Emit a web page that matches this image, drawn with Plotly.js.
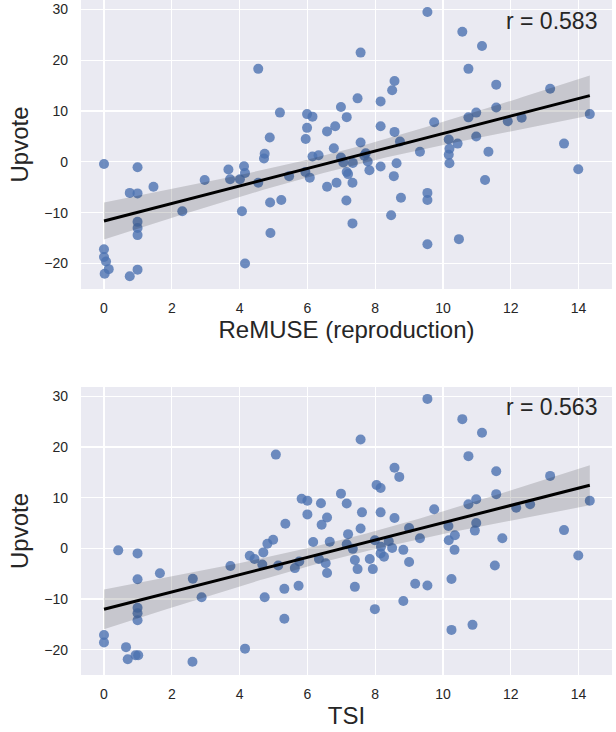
<!DOCTYPE html>
<html>
<head>
<meta charset="utf-8">
<script src="https://cdn.plot.ly/plotly-3.0.1.min.js"></script>
<style>html,body{margin:0;padding:0;background:#fff;}#chart{width:616px;height:732px;}</style>
</head>
<body>
<div id="chart"></div>
<script>
// ---- Panel 1: ReMUSE (reproduction) vs Upvote ----
const remuseX = [4.55,0,0.99,3.67,4.13,4.16,3.72,4.01,4.55,2.97,1.46,0.76,0.99,2.31,4.07,0.99,0.99,0.99,0,0,0.06,0.14,0.02,0.76,0.99,4.16,
  9.54,7.57,8.57,8.5,7.48,8.16,6.99,7.16,5.19,5.99,6.15,5.99,6.82,6.58,8.16,8.57,4.89,5.95,7.57,8.73,6.78,4.74,4.72,6.15,6.33,6.99,7.72,7.68,7.78,7.06,7.34,8.63,9.32,8.16,7.83,8.55,7.16,7.2,5.94,6.07,5.46,7.33,6.86,6.58,8.76,9.54,9.54,4.9,5.23,7.15,8.47,7.33,4.91,9.54,
  10.57,11.15,10.75,11.57,13.16,11.57,10.98,10.75,9.74,11.91,12.32,14.33,10.17,10.98,10.43,10.19,10.17,11.34,13.57,10.19,13.99,11.24,10.47];
const remuseY = [18.3,-0.4,-1.05,-1.5,-0.85,-2.2,-3.4,-3.4,-4.1,-3.56,-4.9,-6.1,-6.2,-9.7,-9.7,-11.8,-13.0,-14.4,-17.2,-18.7,-19.6,-21.1,-22.0,-22.5,-21.2,-20.0,
  29.5,21.5,15.9,14.1,12.5,11.9,10.8,8.8,9.7,9.4,8.9,6.7,7.0,6.0,7.0,5.9,4.8,4.5,3.8,4.0,2.7,1.6,0.66,1.05,1.3,0.85,1.7,1.2,0.07,-0.13,-0.2,-0.27,2.0,-0.92,-1.65,-2.8,-2.0,-2.4,-2.0,-3.1,-2.8,-4.1,-4.1,-4.9,-7.05,-6.1,-7.5,-8.0,-7.5,-7.6,-10.5,-12.1,-14.0,-16.2,
  25.6,22.8,18.3,15.2,14.4,10.7,9.7,8.76,7.8,8.0,8.7,9.4,4.4,5.0,3.6,2.6,1.4,2.0,3.6,-0.27,-1.45,-3.55,-15.2];

// ---- Panel 2: TSI vs Upvote ----
const tsiX = [0.42,0.99,1.65,0.99,2.62,2.88,3.73,4.3,4.44,0.99,0.99,0.99,0,0,0.65,0.70,0.93,1.01,2.61,4.16,
  9.54,5.07,7.57,8.57,8.71,8.04,8.16,6.99,5.83,6.0,6.4,7.16,6.0,6.58,7.61,8.16,8.57,6.42,5.35,7.57,9.0,7.2,4.99,4.82,4.7,6.17,6.66,7.16,7.99,8.4,8.17,7.34,8.5,8.83,9.32,8.16,8.26,7.84,7.4,9.0,6.54,6.34,5.76,5.63,5.14,4.67,7.48,7.93,6.58,9.18,9.54,5.74,5.32,7.4,4.74,8.83,7.99,5.32,
  10.57,11.15,10.75,11.57,13.16,11.57,10.98,10.75,9.74,12.16,12.57,14.33,10.16,10.98,10.94,10.35,10.17,11.75,13.57,10.34,13.99,11.53,10.25,10.87,10.25];
const tsiY = [-0.4,-1.0,-4.9,-6.1,-6.0,-9.65,-3.5,-1.45,-2.1,-11.75,-12.8,-14.2,-17.1,-18.6,-19.5,-21.9,-21.1,-21.1,-22.4,-19.8,
  29.5,18.5,21.5,15.9,14.1,12.5,11.9,10.8,9.8,9.4,8.9,8.85,6.7,6.1,7.1,7.1,6.0,4.65,4.85,3.9,4.0,2.8,1.7,0.9,-0.8,1.24,1.3,0.8,1.6,1.4,0.3,-0.1,0.06,-0.3,2.0,-1.0,-1.65,-2.1,-2.3,-2.7,-2.95,-2.1,-2.6,-3.9,-3.4,-3.2,-4.1,-4.1,-4.85,-7.0,-7.35,-7.4,-8.0,-7.6,-9.65,-10.4,-12.0,-13.9,
  25.5,22.8,18.2,15.2,14.3,10.7,9.7,8.7,7.7,8.0,8.7,9.4,4.4,5.0,3.5,2.6,1.6,2.0,3.6,-0.3,-1.4,-3.4,-6.05,-15.1,-16.1];

const xTitles = ["ReMUSE (reproduction)", "TSI"];
const yTitle = "Upvote";
const rLabels = ["r = 0.583", "r = 0.563"];
const xTicks = [0,2,4,6,8,10,12,14];
const yTicks = [-20,-10,0,10,20,30];

// OLS fit with 95% confidence band
function regression(xs, ys) {
  const n = xs.length;
  const mx = xs.reduce((a,b)=>a+b,0)/n, my = ys.reduce((a,b)=>a+b,0)/n;
  let sxx=0, sxy=0;
  for (let i=0;i<n;i++){ sxx+=(xs[i]-mx)**2; sxy+=(xs[i]-mx)*(ys[i]-my); }
  const b = sxy/sxx, a = my - b*mx;
  let sse=0; for (let i=0;i<n;i++){ sse+=(ys[i]-a-b*xs[i])**2; }
  const s2 = sse/(n-2), t = 1.984;
  const lo = Math.min(...xs), hi = Math.max(...xs);
  const gx=[], gy=[], up=[], dn=[];
  for (let k=0;k<=100;k++){
    const x = lo + (hi-lo)*k/100;
    const yh = a + b*x;
    const se = Math.sqrt(s2*(1/n + (x-mx)**2/sxx));
    gx.push(x); gy.push(yh); up.push(yh + t*se); dn.push(yh - t*se);
  }
  return {gx, gy, up, dn};
}

const font = "Liberation Sans, Arial, sans-serif";
const txt = "#262626";
const panels = [[remuseX, remuseY, "x", "y"], [tsiX, tsiY, "x2", "y2"]];
const traces = [];
panels.forEach(([xs, ys, xa, ya]) => {
  traces.push({type:"scatter", mode:"markers", x:xs, y:ys, xaxis:xa, yaxis:ya,
    marker:{color:"#4C72B0", size:10, opacity:0.8, line:{width:0}}, showlegend:false, hoverinfo:"skip"});
  const r = regression(xs, ys);
  traces.push({type:"scatter", mode:"lines", x:r.gx.concat(r.gx.slice().reverse()), y:r.up.concat(r.dn.slice().reverse()),
    xaxis:xa, yaxis:ya, fill:"toself", fillcolor:"rgba(0,0,0,0.15)", line:{width:0}, showlegend:false, hoverinfo:"skip"});
  traces.push({type:"scatter", mode:"lines", x:r.gx, y:r.gy, xaxis:xa, yaxis:ya,
    line:{color:"#000000", width:3}, showlegend:false, hoverinfo:"skip"});
});

function xaxis(title, anchor) {
  return {range:[-0.678, 14.985], tickvals:xTicks, showgrid:true, gridcolor:"#ffffff", gridwidth:1.2,
    zeroline:false, showline:false, ticks:"", ticklabelstandoff:9, anchor:anchor,
    tickfont:{family:font, size:14, color:txt},
    title:{text:title, font:{family:font, size:24, color:txt}, standoff:6}};
}
function yaxis(dom, anchor) {
  return {range:[-25.0, 31.85], domain:dom, tickvals:yTicks, showgrid:true, gridcolor:"#ffffff", gridwidth:1.2,
    zeroline:false, showline:false, ticks:"", ticklabelstandoff:12, anchor:anchor,
    tickfont:{family:font, size:14, color:txt},
    title:{text:yTitle, font:{family:font, size:24, color:txt}, standoff:8}};
}

const layout = {
  width:616, height:732,
  margin:{l:81, r:4, t:0, b:57},
  paper_bgcolor:"#ffffff", plot_bgcolor:"#EAEAF2",
  font:{family:font, color:txt},
  xaxis: xaxis(xTitles[0], "y"),
  yaxis: yaxis([0.5719, 1], "x"),
  xaxis2: xaxis(xTitles[1], "y2"),
  yaxis2: yaxis([0, 0.4267], "x2"),
  annotations: [
    {text:rLabels[0], xref:"paper", yref:"paper", x:0.9755, y:0.9696, xanchor:"right", yanchor:"middle", showarrow:false, font:{family:font, size:23, color:txt}},
    {text:rLabels[1], xref:"paper", yref:"paper", x:0.9755, y:0.3966, xanchor:"right", yanchor:"middle", showarrow:false, font:{family:font, size:23, color:txt}}
  ]
};

Plotly.newPlot("chart", traces, layout, {displayModeBar:false, staticPlot:true});
</script>
</body>
</html>
